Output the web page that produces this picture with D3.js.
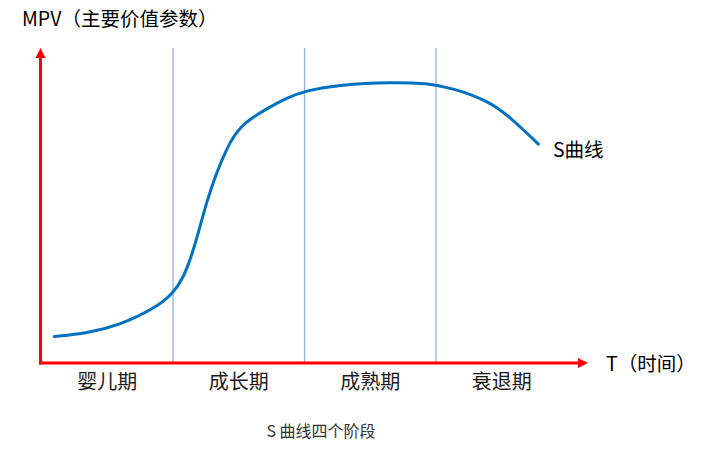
<!DOCTYPE html>
<html><head><meta charset="utf-8">
<script src="https://cdn.jsdelivr.net/npm/d3@7"></script>
<style>body{margin:0;background:#fff;} text{font-family:"Noto Sans CJK SC","Noto Sans",sans-serif;}</style>
</head><body>
<script>
// stage index (0..4) on time axis, MPV value 0..100
const stages = ["婴儿期", "成长期", "成熟期", "衰退期"];
const curveT = [0.097,0.344,0.597,0.863,1.002,1.078,1.142,1.205,1.256,1.332,1.408,1.459,1.520,1.586,1.738,1.865,1.996,2.270,2.673,2.929,3.129,3.386,3.563,3.778];
const curveV = [8.1,9.1,11.8,17.1,21.9,26.8,33.8,43.0,51.0,60.5,67.8,71.8,75.0,77.4,81.3,84.0,86.3,88.4,89.1,88.8,87.2,83.4,78.1,69.4];
const dividers = [1, 2, 3];
const yLabel = "MPV（主要价值参数）";
const xLabel = "T（时间）";
const seriesLabel = "S曲线";
const caption = "S 曲线四个阶段";

const W = 701, H = 453;
const svg = d3.select("body").append("svg").attr("width", W).attr("height", H);
const x = d3.scaleLinear().domain([0, 4]).range([41.5, 567.5]);
const y = d3.scaleLinear().domain([0, 100]).range([362, 48]);

// dividers
svg.selectAll("line.div").data(dividers).join("line")
  .attr("x1", d => x(d)).attr("x2", d => x(d))
  .attr("y1", y(100)).attr("y2", y(0))
  .attr("stroke", "#8EB4E3").attr("stroke-width", 1.3);

// curve
const pts = curveT.map((t, i) => [t, curveV[i]]);
svg.append("path").datum(pts)
  .attr("d", d3.line().x(d => x(d[0])).y(d => y(d[1])).curve(d3.curveBasis))
  .attr("fill", "none").attr("stroke", "#0070C0").attr("stroke-width", 3).attr("stroke-linecap", "round");

// axes
const x0 = 40.5, y0 = y(0) + 1;
svg.append("line").attr("x1", x0).attr("x2", x0).attr("y1", y0 + 1.5).attr("y2", 57)
  .attr("stroke", "#FF0000").attr("stroke-width", 3);
svg.append("path").attr("d", `M${x0},48 L${x0-5},58 L${x0+5},58 Z`).attr("fill", "#FF0000");
svg.append("line").attr("x1", x0 - 1.5).attr("x2", 579).attr("y1", y0).attr("y2", y0)
  .attr("stroke", "#FF0000").attr("stroke-width", 3);
svg.append("path").attr("d", `M588,${y0} L578,${y0-5} L578,${y0+5} Z`).attr("fill", "#FF0000");

// texts
svg.append("text").attr("x", 22).attr("y", 26).attr("font-size", 19.5).attr("fill", "#000").text(yLabel);
svg.append("text").attr("x", 606).attr("y", 371).attr("font-size", 19.5).attr("fill", "#000").text(xLabel);
svg.append("text").attr("x", 553).attr("y", 157).attr("font-size", 19.5).attr("fill", "#000").text(seriesLabel);
svg.selectAll("text.stage").data(stages).join("text")
  .attr("x", (d, i) => x(i + 0.5)).attr("y", 389).attr("text-anchor", "middle")
  .attr("font-size", 20).attr("fill", "#1a1a1a").text(d => d);
svg.append("text").attr("x", 321).attr("y", 437).attr("text-anchor", "middle")
  .attr("font-size", 16).attr("fill", "#333").text(caption);
</script>
</body></html>
